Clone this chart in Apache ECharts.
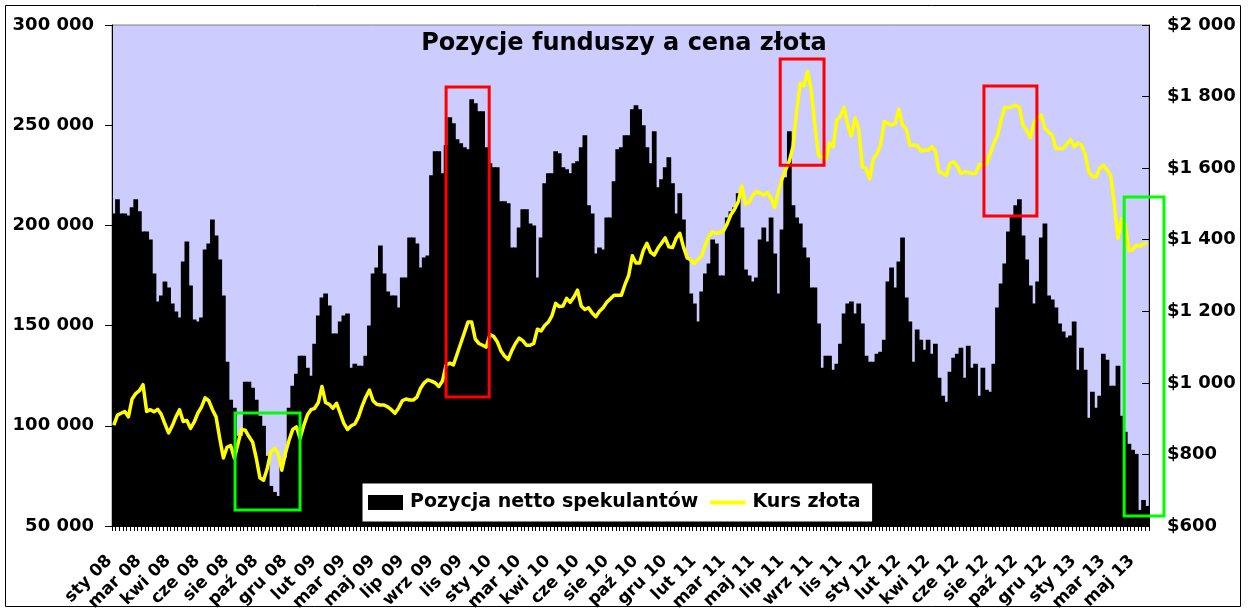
<!DOCTYPE html>
<html>
<head>
<meta charset="utf-8">
<script src="https://cdn.jsdelivr.net/npm/echarts@6/dist/echarts.min.js"></script>
<style>html,body{margin:0;padding:0;background:#fff}#c{width:1248px;height:615px}</style>
</head>
<body>
<div id="c"></div>
<script>
// Weekly categories: Tuesdays starting 8 Jan 2008, 284 weeks
const startDate = Date.UTC(2008, 0, 8);
const weekCount = 284;
const monthNames = ['sty','lut','mar','kwi','maj','cze','lip','sie','wrz','paź','lis','gru'];
const categories = [];
for (let k = 0; k < weekCount; k++) {
  const d = new Date(startDate + k * 7 * 86400000);
  categories.push(monthNames[d.getUTCMonth()] + ' ' + String(d.getUTCFullYear() % 100).padStart(2, '0'));
}

// Net speculative positions (thousands of contracts)
const netPositions = [
206,213,206,206,205,209,213,207,197,197,193,176,162,165,172,169,161,157,154,182,
192,170,153,152,154,188,191,203,195,183,165,132,113,109,95,95,122,122,119,113,
105,100,85,70,67,65,80,84,109,120,126,135,135,129,125,141,155,164,166,160,
146,146,152,155,156,129,131,130,130,135,150,176,179,190,176,167,165,165,159,174,
174,194,194,191,179,184,185,225,237,237,226,240,254,251,243,241,239,238,263,261,
257,257,239,231,229,229,212,212,211,189,189,199,208,208,201,200,174,194,221,226,
226,237,236,229,228,226,231,232,239,245,210,206,186,189,188,204,204,222,238,239,
245,245,258,260,258,250,239,231,247,219,223,229,234,221,206,216,203,183,166,161,
152,167,176,181,193,191,175,175,204,207,209,216,199,178,175,172,174,193,199,192,
204,186,166,198,224,247,210,204,201,189,184,169,169,151,129,135,135,128,131,141,
156,161,162,156,161,151,135,132,132,136,137,143,172,179,169,182,194,164,152,132,
148,143,138,143,136,141,124,115,112,127,134,136,139,124,140,129,131,115,129,118,
117,131,159,171,181,197,205,210,213,195,183,170,161,172,194,201,165,163,159,151,
147,144,145,152,128,139,128,104,117,109,115,136,133,120,120,130,105,97,91,88,
86,58,63,60
];

// Gold price (USD/oz)
const goldPrice = [
882,910,915,920,905,955,970,978,995,920,925,919,926,912,885,860,880,905,925,892,
895,873,890,915,932,958,950,925,905,845,790,820,825,790,830,870,868,850,835,790,
735,728,760,808,817,803,756,803,840,870,877,845,880,910,925,929,945,990,945,940,
929,943,915,887,870,880,885,905,935,960,980,950,940,938,938,933,925,915,930,950,
955,952,952,960,985,1000,1008,1005,1000,990,1005,1050,1055,1050,1080,1110,1140,1170,1170,1122,
1110,1105,1100,1135,1130,1115,1090,1075,1065,1090,1110,1125,1118,1105,1105,1110,1150,1145,1160,1170,
1188,1222,1213,1215,1236,1225,1240,1259,1215,1205,1210,1195,1185,1200,1210,1225,1235,1245,1245,1245,
1275,1300,1355,1335,1335,1370,1390,1365,1357,1376,1390,1405,1380,1378,1404,1418,1380,1350,1343,1334,
1345,1355,1385,1410,1422,1418,1420,1425,1445,1470,1485,1506,1550,1500,1505,1525,1535,1530,1525,1532,
1515,1490,1535,1570,1595,1620,1660,1760,1837,1830,1870,1820,1720,1636,1630,1625,1670,1660,1734,1745,
1770,1720,1690,1740,1710,1604,1600,1570,1625,1640,1665,1730,1725,1720,1725,1765,1720,1710,1664,1664,
1664,1648,1650,1650,1660,1648,1590,1585,1580,1613,1618,1605,1585,1590,1588,1585,1585,1610,1608,1613,
1640,1670,1690,1735,1769,1769,1772,1776,1770,1720,1706,1685,1727,1740,1748,1712,1701,1692,1655,1655,
1655,1667,1680,1660,1670,1664,1640,1590,1576,1576,1600,1608,1595,1580,1500,1404,1458,1440,1370,1372,
1385,1382,1388,1392
];

// Annotation boxes: [first category edge, last category edge, top value, bottom value] on left axis (thousands)
const boxStart = [33.7, 91.5, 183.0, 238.8, 277.2];
const boxEnd   = [51.5, 103.3, 195.0, 253.3, 288.1];
const boxTop   = [106.4, 269.0, 283.0, 269.6, 214.2];
const boxBottom= [58.0, 114.4, 230.0, 204.7, 55.0];
const boxColor = ['#00FF00', '#FF0000', '#FF0000', '#FF0000', '#00FF00'];

const seriesNames = ['Pozycja netto spekulantów', 'Kurs złota'];
const FONT = 'DejaVu Sans';

const chart = echarts.init(document.getElementById('c'), null, {renderer: 'canvas'});

const outerBorder = {
  id: 'outer', type: 'rect', z: 100, silent: true,
  shape: {x: 5.5, y: 5.5, width: 1235, height: 601},
  style: {fill: 'none', stroke: '#000', lineWidth: 1}
};

chart.setOption({
  animation: false,
  backgroundColor: '#ffffff',
  title: {
    text: 'Pozycje funduszy a cena złota',
    left: 'center', top: 32, padding: 0,
    textStyle: {fontFamily: FONT, fontWeight: 'bold', fontSize: 24, color: '#000'}
  },
  legend: {
    left: 362, top: 483,
    orient: 'horizontal',
    backgroundColor: '#ffffff', borderColor: '#000', borderWidth: 1,
    padding: [10, 12, 10, 6],
    itemWidth: 35, itemHeight: 15, itemGap: 12,
    textStyle: {fontFamily: FONT, fontWeight: 'bold', fontSize: 19, color: '#000', padding: [0, 0, 0, 2]},
    data: [
      {name: seriesNames[0], icon: 'rect'},
      {name: seriesNames[1], icon: 'path://M0,0H35V4H0Z'}
    ]
  },
  grid: {
    left: 112, right: 99, top: 25, bottom: 89,
    show: true, backgroundColor: '#CCCCFF', borderColor: '#808080', borderWidth: 1
  },
  xAxis: {
    type: 'category',
    data: categories,
    boundaryGap: true,
    axisLine: {lineStyle: {color: '#000', width: 1}},
    axisTick: {show: true, interval: 0, length: 5, lineStyle: {color: '#000'}},
    axisLabel: {
      interval: 7, rotate: 45, margin: 28, padding: [0, 6, 0, 0],
      fontFamily: FONT, fontWeight: 'bold', fontSize: 17, color: '#000'
    },
    splitLine: {show: false}
  },
  yAxis: [
    {
      type: 'value', min: 50, max: 300, interval: 50, position: 'left',
      axisLine: {show: true, lineStyle: {color: '#000'}},
      axisTick: {show: true, length: 7, lineStyle: {color: '#000'}},
      axisLabel: {
        margin: 18, fontFamily: FONT, fontWeight: 'bold', fontSize: 18, color: '#000',
        formatter: v => v + ' 000'
      },
      splitLine: {show: false}
    },
    {
      type: 'value', min: 600, max: 2000, interval: 200, position: 'right',
      axisLine: {show: true, lineStyle: {color: '#000'}},
      axisTick: {show: true, inside: true, length: 7, lineStyle: {color: '#000'}},
      axisLabel: {
        margin: 18, fontFamily: FONT, fontWeight: 'bold', fontSize: 18, color: '#000',
        formatter: v => v >= 1000 ? '$' + Math.floor(v / 1000) + ' ' + String(v % 1000).padStart(3, '0') : '$' + v
      },
      splitLine: {show: false}
    }
  ],
  series: [
    {
      name: seriesNames[0], type: 'bar', yAxisIndex: 0,
      data: netPositions,
      barWidth: '130%',
      itemStyle: {color: '#000', borderWidth: 0},
      emphasis: {disabled: true}
    },
    {
      name: seriesNames[1], type: 'line', yAxisIndex: 1,
      data: goldPrice,
      symbol: 'none', showSymbol: false,
      lineStyle: {color: '#FFFF00', width: 3.5, join: 'round'},
      itemStyle: {color: '#FFFF00'},
      z: 5,
      emphasis: {disabled: true}
    }
  ],
  graphic: [outerBorder]
});

// Position annotation boxes through the chart's own scales
const c0 = chart.convertToPixel({xAxisIndex: 0}, 0);
const c1 = chart.convertToPixel({xAxisIndex: 0}, 1);
const band = c1 - c0;
const edgeX = b => c0 + (b - 0.5) * band;
const boxes = boxStart.map((s, k) => {
  const x1 = edgeX(s), x2 = edgeX(boxEnd[k]);
  const y1 = chart.convertToPixel({yAxisIndex: 0}, boxTop[k]);
  const y2 = chart.convertToPixel({yAxisIndex: 0}, boxBottom[k]);
  return {
    id: 'box' + k, type: 'rect', z: 50, silent: true,
    shape: {x: x1, y: y1, width: x2 - x1, height: y2 - y1},
    style: {fill: 'none', stroke: boxColor[k], lineWidth: 3}
  };
});
chart.setOption({graphic: [outerBorder].concat(boxes)});
</script>
</body>
</html>
